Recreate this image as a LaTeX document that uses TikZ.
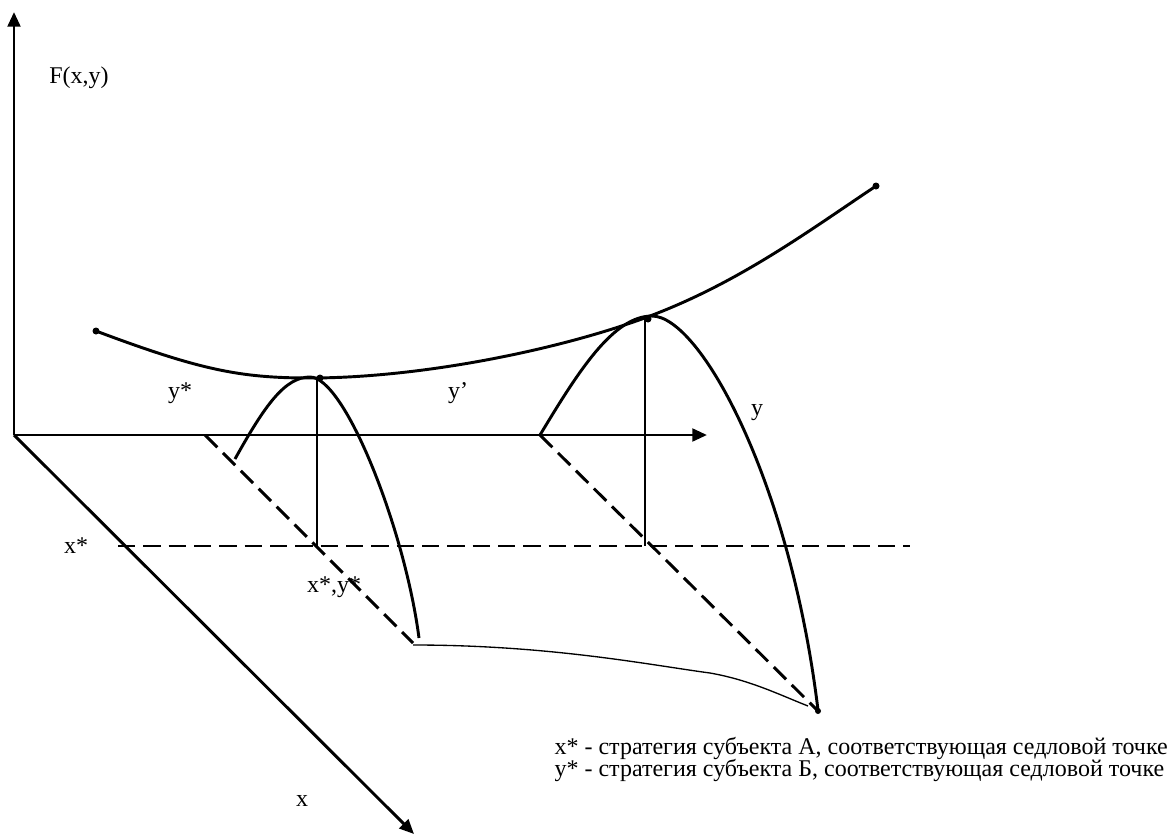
\documentclass[tikz,border=0pt]{standalone}
\usepackage{fontspec}
\setmainfont{Liberation Serif}
\usetikzlibrary{arrows.meta,positioning}

\begin{document}
\begin{tikzpicture}[
    x=0.75pt, y=-0.75pt,
    font=\fontsize{18}{21}\selectfont,
    axis/.style={-{Triangle[length=11pt,width=9.5pt]}, line width=2.2pt},
    curve/.style={line width=2.2pt},
    thinline/.style={line width=1pt},
    dashline/.style={line width=2.2pt, dash pattern=on 13pt off 6pt},
    lbl/.style={inner sep=0pt}
]
\useasboundingbox (0,0) rectangle (1172,836);

% Axes
\coordinate (O)  at (14,435);
\coordinate (Ft) at (14,12);
\coordinate (Yt) at (707,435);
\coordinate (Xt) at (414,834);
\draw[axis] (O) -- (Ft);
\draw[axis] (O) -- (Yt);
\draw[axis] (O) -- (Xt);

% Axis labels
\node[lbl] (Flab) at (79,78)   {F(x,y)};
\node[lbl] (ylab) at (757,413) {y};
\node[lbl] (xlab) at (302,801) {x};

% Saddle points on the surface
\coordinate (S1) at (320,378);
\coordinate (S2) at (648,319);

% Upper curve
\draw[curve] (96,331) .. controls (200,370) and (240,378) .. (310,378)
    .. controls (420,378) and (560,350) .. (650,316)
    .. controls (740,282) and (810,230) .. (876,186);
\fill (96,331) circle (3.5);
\fill (876,186) circle (3.5);

% Left parabola
\draw[curve] (235,459) .. controls (265,405) and (285,377) .. (310,377)
    .. controls (345,377) and (405,530) .. (419,638);
\fill (S1) circle (3.5);

% Right parabola
\draw[curve] (540,435) .. controls (578,372) and (613,316) .. (652,316)
    .. controls (700,316) and (790,480) .. (818,710);
\fill (S2) circle (3.5);

% Vertical lines from saddle points
\coordinate (P1) at (317,546);
\coordinate (P2) at (645,546);
\draw[thinline] (317,378) -- (P1);
\draw[thinline] (645,318) -- (P2);

% x* line and diagonals
\coordinate (Xs)  at (118,546);
\coordinate (Xe)  at (910,546);
\draw[dashline] (Xs) -- (Xe);
\coordinate (D1a) at (205,435);
\coordinate (D1b) at (413,643);
\coordinate (D2a) at (540,435);
\coordinate (D2b) at (818,711);
\draw[dashline] (D1a) -- (D1b);
\draw[dashline] (D2a) -- (D2b);

% Bottom curve
\draw[thinline] (413,645) .. controls (550,645) and (650,665) .. (710,673)
    .. controls (750,680) and (780,695) .. (808,706);
\fill (D2b) circle (3);

% Point labels
\node[lbl] (ys)  at (180,393) {y*};
\node[lbl] (yp)  at (458,393) {y’};
\node[lbl] (xs)  at (76,546)  {x*};
\node[lbl] (xys) at (334,587) {x*,y*};

% Legend
\node[lbl, anchor=base east] (leg1) at (1168,754) {x* - стратегия субъекта А, соответствующая седловой точке};
\node[lbl, anchor=base west] (leg2) at ([yshift=-16.5pt]leg1.base west) {y* - стратегия субъекта Б, соответствующая седловой точке};
\end{tikzpicture}
\end{document}
